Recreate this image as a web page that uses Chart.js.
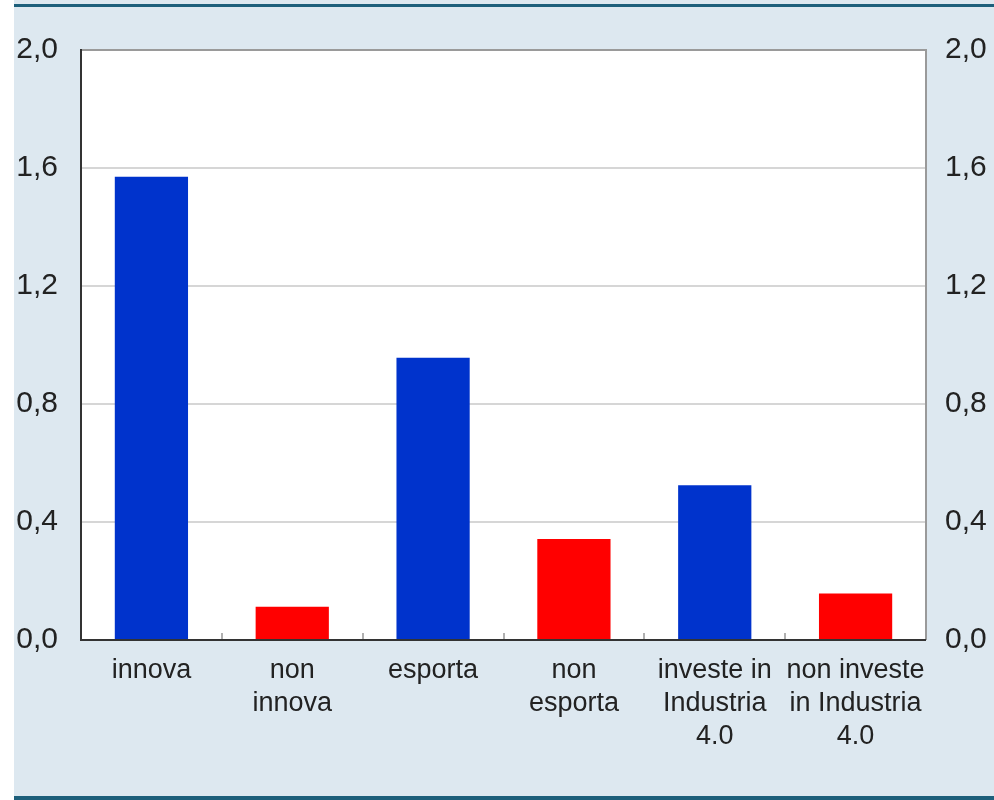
<!DOCTYPE html>
<html>
<head>
<meta charset="utf-8">
<script src="https://cdn.jsdelivr.net/npm/chart.js@4"></script>
<style>
  html, body { margin: 0; padding: 0; background: #ffffff; }
  #wrap { width: 994px; height: 800px; position: relative; }
</style>
</head>
<body>
<div id="wrap"><canvas id="bars"></canvas></div>
<script>
const categories = [
  ["innova"],
  ["non", "innova"],
  ["esporta"],
  ["non", "esporta"],
  ["investe in", "Industria", "4.0"],
  ["non investe", "in Industria", "4.0"],
];
const values = [1.57, 0.113, 0.957, 0.342, 0.525, 0.158];
const innovative = [true, false, true, false, true, false];
const yTicks = [0, 0.4, 0.8, 1.2, 1.6, 2.0];

const BLUE = "#0033cc";
const RED = "#ff0000";
const TEXT = "#222222";
const FONT = "'Liberation Sans', Arial, Helvetica, sans-serif";

const fmt = (v) => v.toFixed(1).replace(".", ",");

// panel background, frame and the small category ticks
const frame = {
  id: "frame",
  beforeDraw(chart) {
    const { ctx, chartArea: a, width, height } = chart;
    ctx.save();
    ctx.fillStyle = "#ffffff";
    ctx.fillRect(0, 0, width, height);
    ctx.fillStyle = "#dde8f0";
    ctx.fillRect(14, 0, width - 14, height);
    ctx.fillStyle = "#1d5f7b";
    ctx.fillRect(14, 4, width - 14, 3);
    ctx.fillRect(14, height - 4, width - 14, 4);
    ctx.fillStyle = "#ffffff";
    ctx.fillRect(a.left, a.top, a.right - a.left, a.bottom - a.top);
    ctx.restore();
  },
  afterDatasetsDraw(chart) {
    const { ctx, chartArea: a, scales } = chart;
    const x = scales.x;
    ctx.save();
    // top and right borders
    ctx.strokeStyle = "#9a9a9a";
    ctx.lineWidth = 2;
    ctx.beginPath();
    ctx.moveTo(a.left, a.top);
    ctx.lineTo(a.right, a.top);
    ctx.lineTo(a.right, a.bottom);
    ctx.stroke();
    // ticks between categories
    ctx.strokeStyle = "#b0b0b0";
    for (let i = 1; i < categories.length; i++) {
      const px = Math.round((x.getPixelForValue(i - 1) + x.getPixelForValue(i)) / 2);
      ctx.beginPath();
      ctx.moveTo(px, a.bottom);
      ctx.lineTo(px, a.bottom - 7);
      ctx.stroke();
    }
    // left and bottom axis lines
    ctx.strokeStyle = "#333333";
    ctx.lineWidth = 2;
    ctx.beginPath();
    ctx.moveTo(a.left, a.top - 1);
    ctx.lineTo(a.left, a.bottom);
    ctx.lineTo(a.right, a.bottom);
    ctx.stroke();
    ctx.restore();
  },
};

new Chart(document.getElementById("bars").getContext("2d"), {
  type: "bar",
  data: {
    labels: categories,
    datasets: [
      {
        data: values,
        backgroundColor: innovative.map((v) => (v ? BLUE : RED)),
        borderWidth: 0,
        categoryPercentage: 1,
        barPercentage: 0.52,
      },
    ],
  },
  options: {
    responsive: true,
    maintainAspectRatio: false,
    animation: false,
    layout: { padding: { top: 50, left: 14, right: 0, bottom: 0 } },
    plugins: {
      legend: { display: false },
      tooltip: { enabled: false },
    },
    scales: {
      x: {
        grid: { display: false, drawTicks: false },
        border: { display: false },
        ticks: {
          color: TEXT,
          font: { family: FONT, size: 27, lineHeight: 1.22 },
          padding: 14,
          maxRotation: 0,
          autoSkip: false,
        },
        afterFit(s) { s.height = 160; },
      },
      y: {
        position: "left",
        min: 0,
        max: 2,
        afterBuildTicks(s) { s.ticks = yTicks.map((v) => ({ value: v })); },
        grid: { color: "#d6d6d6", lineWidth: 2, drawTicks: false },
        border: { display: false },
        ticks: {
          color: TEXT,
          font: { family: FONT, size: 30 },
          padding: 23,
          callback: fmt,
        },
        afterFit(s) { s.width = 67; },
      },
      y2: {
        position: "right",
        min: 0,
        max: 2,
        afterBuildTicks(s) { s.ticks = yTicks.map((v) => ({ value: v })); },
        grid: { display: false, drawTicks: false },
        border: { display: false },
        ticks: {
          color: TEXT,
          font: { family: FONT, size: 30 },
          padding: 19,
          callback: fmt,
        },
        afterFit(s) { s.width = 68; },
      },
    },
  },
  plugins: [frame],
});
</script>
</body>
</html>
